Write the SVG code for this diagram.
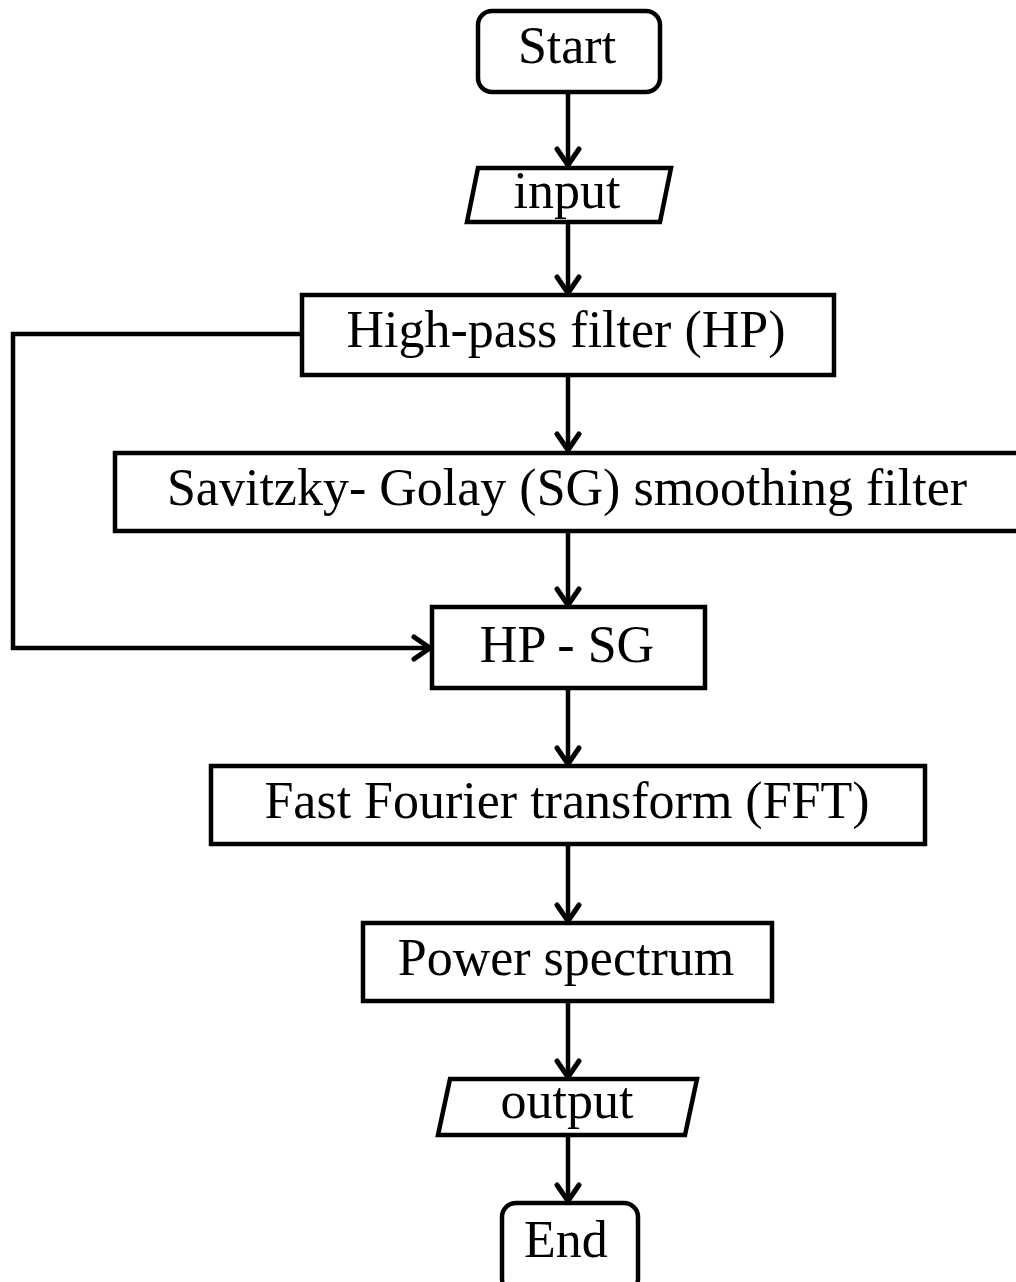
<svg xmlns="http://www.w3.org/2000/svg" width="1016" height="1282" viewBox="0 0 1016 1282">
<style>
.box{fill:#fff;stroke:#000;stroke-width:4.5;stroke-linejoin:miter}
.t{font-family:"Liberation Serif","Times New Roman",serif;font-size:52px;fill:#000;text-anchor:middle}
.c{fill:none;stroke:#000;stroke-width:4.5}
</style>
<defs>
<marker id="ah" viewBox="0 0 26 28" refX="22" refY="14" markerWidth="26" markerHeight="28" markerUnits="userSpaceOnUse" orient="auto">
<path d="M5,3 L21,14 L5,25" fill="none" stroke="#000" stroke-width="5" stroke-linecap="round" stroke-linejoin="miter"/>
</marker>
</defs>
<g id="connectors">
<line class="c" x1="568" y1="92" x2="568" y2="166" marker-end="url(#ah)"/>
<line class="c" x1="568" y1="222" x2="568" y2="294" marker-end="url(#ah)"/>
<line class="c" x1="568" y1="375" x2="568" y2="451" marker-end="url(#ah)"/>
<line class="c" x1="568" y1="531" x2="568" y2="606" marker-end="url(#ah)"/>
<polyline class="c" points="302,334 13,334 13,648 431,648" marker-end="url(#ah)"/>
<line class="c" x1="568" y1="688" x2="568" y2="765" marker-end="url(#ah)"/>
<line class="c" x1="568" y1="844" x2="568" y2="922" marker-end="url(#ah)"/>
<line class="c" x1="568" y1="1001" x2="568" y2="1078" marker-end="url(#ah)"/>
<line class="c" x1="568" y1="1135" x2="568" y2="1202" marker-end="url(#ah)"/>
</g>
<g id="start">
<rect class="box" x="478" y="11" width="182" height="81" rx="14"/>
<text class="t" x="567" y="63">Start</text>
</g>
<g id="input">
<polygon class="box" points="478,168 671,168 660,222 467,222"/>
<text class="t" x="567" y="208">input</text>
</g>
<g id="hp">
<rect class="box" x="302" y="295" width="532" height="80"/>
<text class="t" x="566" y="347">High-pass filter (HP)</text>
</g>
<g id="sg">
<rect class="box" x="115" y="453" width="920" height="78"/>
<text class="t" x="567" y="505">Savitzky- Golay (SG) smoothing filter</text>
</g>
<g id="hpsg">
<rect class="box" x="432" y="607" width="273" height="81"/>
<text class="t" x="567" y="662">HP - SG</text>
</g>
<g id="fft">
<rect class="box" x="211" y="766" width="714" height="78"/>
<text class="t" x="567" y="818">Fast Fourier transform (FFT)</text>
</g>
<g id="power">
<rect class="box" x="363" y="923" width="409" height="78"/>
<text class="t" x="566" y="975">Power spectrum</text>
</g>
<g id="output">
<polygon class="box" points="450,1079 697,1079 685,1135 438,1135"/>
<text class="t" x="567" y="1118">output</text>
</g>
<g id="end">
<rect class="box" x="502" y="1203" width="136" height="90" rx="14"/>
<text class="t" x="566" y="1257">End</text>
</g>
</svg>
